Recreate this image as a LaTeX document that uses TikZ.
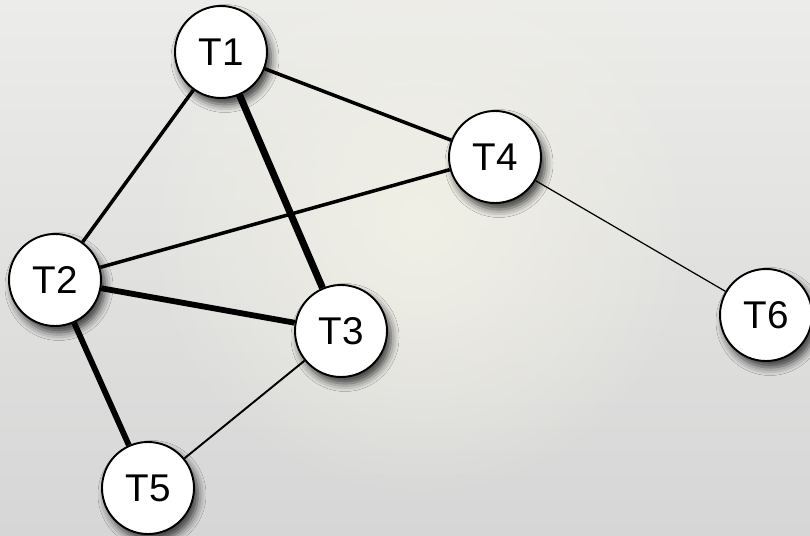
\documentclass[tikz,border=0pt]{standalone}
\usepackage{fontspec}
\setmainfont{Liberation Sans}
\usetikzlibrary{shadows.blur,fadings}

\definecolor{bgtop}{HTML}{ECECEA}
\definecolor{bgbottom}{HTML}{D6D6D6}
\definecolor{bgglow}{HTML}{F1F0E6}

\tikzfading[name=glowfade, inner color=transparent!0, outer color=transparent!100]

\tikzstyle{task} = [circle, draw, line width=1.1pt, fill=white, minimum size=1.84cm, inner sep=0pt,
    font=\fontsize{22}{24}\selectfont,
    blur shadow={shadow xshift=0.08cm, shadow yshift=-0.13cm, shadow blur radius=0.16cm, shadow opacity=75}]
\tikzstyle{weak} = [line width=0.7pt]
\tikzstyle{light} = [line width=1.1pt]
\tikzstyle{mid} = [line width=2pt]
\tikzstyle{heavy} = [line width=3.3pt]
\tikzstyle{heavier} = [line width=4pt]

\begin{document}
\begin{tikzpicture}
\useasboundingbox (0,0) rectangle (16.2,10.7);
% background
\begin{scope}
\clip (0,0) rectangle (16.2,10.7);
\shade[top color=bgtop, bottom color=bgbottom] (0,0) rectangle (16.2,10.7);
\fill[bgglow, path fading=glowfade] (8.4,6.3) circle (5.6cm);
\end{scope}

% tasks
\node[task] (t1) at (4.42,9.66) {T1};
\node[task] (t4) at (9.90,7.56) {T4};
\node[task] (t2) at (1.10,5.10) {T2};
\node[task] (t3) at (6.82,4.08) {T3};
\node[task] (t5) at (2.96,0.94) {T5};
\node[task] (t6) at (15.32,4.40) {T6};

% links
\draw[mid] (t1) -- (t4);
\draw[mid] (t1) -- (t2);
\draw[heavier] (t1) -- (t3);
\draw[mid] (t4) -- (t2);
\draw[weak] (t4) -- (t6);
\draw[heavy] (t2) -- (t3);
\draw[heavy] (t2) -- (t5);
\draw[light] (t3) -- (t5);
\end{tikzpicture}
\end{document}
